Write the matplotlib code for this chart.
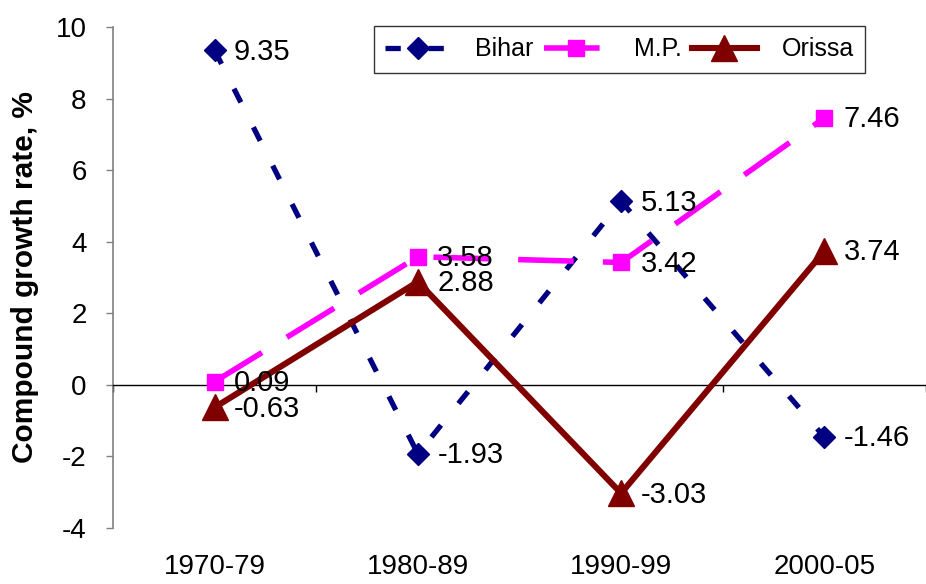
import matplotlib
matplotlib.use("Agg")
import matplotlib.pyplot as plt

plt.rcParams['font.family'] = ['Liberation Sans', 'DejaVu Sans']
plt.rcParams['lines.scale_dashes'] = False

periods = ["1970-79", "1980-89", "1990-99", "2000-05"]
bihar = [9.35, -1.93, 5.13, -1.46]
mp = [0.09, 3.58, 3.42, 7.46]
orissa = [-0.63, 2.88, -3.03, 3.74]
y_ticks = [-4, -2, 0, 2, 4, 6, 8, 10]

fig = plt.figure(figsize=(9.26, 5.84), dpi=100)
ax = fig.add_axes([113 / 926, 56 / 584, 813 / 926, 501 / 584])

x = list(range(len(periods)))

ax.plot(x, bihar, color="#000080", lw=3.8, linestyle=(0, (11, 20)),
        marker="D", markersize=11, label="Bihar", zorder=3)
ax.plot(x, mp, color="#FF00FF", lw=4.0, linestyle=(0, (40, 21)),
        marker="s", markersize=12, label="M.P.", zorder=3)
ax.plot(x, orissa, color="#800000", lw=4.4, linestyle="-",
        marker="^", markersize=19, label="Orissa", zorder=3)

# value labels to the right of each point
for series in (bihar, mp, orissa):
    for xi, v in zip(x, series):
        ax.annotate(f"{v:.2f}", (xi, v), xytext=(14, -1), textcoords="offset points",
                    ha="left", va="center", fontsize=21, color="black", zorder=4)

ax.set_ylim(-4, 10)
ax.set_xlim(-0.5, 3.466)
ax.set_yticks(y_ticks)
ax.set_yticklabels([str(t) for t in y_ticks])
ax.tick_params(axis="y", direction="out", length=5, width=1, colors="#808080",
               labelcolor="black", labelsize=20, pad=14)

# horizontal axis line at zero with boundary ticks
ax.spines["top"].set_visible(False)
ax.spines["right"].set_visible(False)
ax.spines["left"].set_color("#808080")
ax.spines["left"].set_linewidth(1.2)
ax.spines["bottom"].set_position(("data", 0))
ax.spines["bottom"].set_linewidth(1)
ax.set_xticks([-0.5, 0.5, 1.5, 2.5, 3.5])
ax.tick_params(axis="x", direction="out", length=5, width=1, labelbottom=False)

# period labels along the bottom of the plot area
sec = ax.secondary_xaxis(0.0)
sec.set_xticks(x)
sec.set_xticklabels(periods)
sec.tick_params(axis="x", length=0, labelsize=20, pad=19)
sec.spines["bottom"].set_visible(False)

ax.set_ylabel("Compound growth rate, %", fontsize=21.5, fontweight="bold", labelpad=12)

leg = fig.legend(loc="upper left", bbox_to_anchor=(374 / 926, 1 - 26 / 584),
                 ncol=3, fontsize=18, frameon=True, fancybox=False,
                 edgecolor="black", handlelength=2.6, handletextpad=1.0,
                 columnspacing=0.4, borderpad=0.45, borderaxespad=0)
leg.get_frame().set_linewidth(1)

fig.savefig("out.png", dpi=100, facecolor="white")
